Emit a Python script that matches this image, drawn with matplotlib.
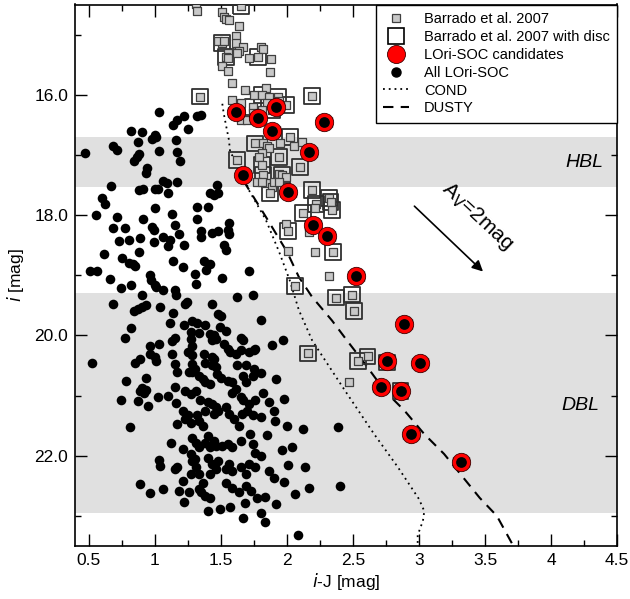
import matplotlib
matplotlib.use("Agg")
import matplotlib.pyplot as plt
from matplotlib.ticker import MultipleLocator, FormatStrFormatter, FuncFormatter
from matplotlib.lines import Line2D

plt.rcParams['font.family'] = ['Liberation Sans', 'DejaVu Sans']

# ---------------- data ----------------
# All LOri-SOC objects (i-J, i)
all_x = [1.03,1.17,1.22,1.14,1.32,1.35,1.25,0.82,0.90,1.00,1.01,0.98,0.87,1.16,0.68,0.71,0.47,1.03,1.17,0.88,
         0.86,0.84,1.19,0.94,0.93,1.06,1.09,1.17,0.67,0.88,0.91,1.00,1.02,1.10,1.47,1.42,1.45,1.48,0.60,0.62,
         1.00,1.32,1.40,0.55,0.71,1.13,0.91,1.32,1.56,0.68,0.77,0.98,0.99,1.15,1.35,1.35,1.43,1.48,1.55,1.56,
         1.18,0.73,0.80,0.89,0.99,1.06,1.10,1.11,1.22,1.52,1.54,0.88,0.61,0.75,0.80,0.83,0.85,1.14,1.21,1.37,
         1.42,1.39,0.51,0.56,0.66,0.96,0.97,1.00,1.01,1.30,1.31,1.51,0.82,0.74,1.06,1.15,1.16,0.90,
         1.71,1.62,1.74,1.80,1.97,1.89,1.61,1.76,
         0.68,0.84,0.87,0.90,0.93,1.04,1.14,1.23,1.24,1.43,1.50,1.48,1.11,1.22,1.28,1.32,1.38,1.49,1.54,0.82,
         1.27,1.33,1.42,1.45,1.43,1.46,1.65,1.67,0.77,1.15,1.13,1.27,1.28,0.96,1.03,1.52,1.55,1.57,1.65,1.71,
         1.75,1.25,1.28,0.96,1.00,1.01,1.13,1.37,1.43,1.45,0.89,1.15,0.52,0.85,1.28,1.30,1.28,1.26,1.38,1.43,
         1.46,1.62,1.69,1.75,1.74,1.17,1.33,1.36,1.38,1.42,1.47,1.50,1.55,1.58,1.67,1.69,0.93,0.78,1.15,1.23,
         1.27,1.31,0.90,0.93,0.92,0.89,1.02,0.74,0.87,1.10,1.16,0.95,1.34,1.40,1.43,1.46,1.48,1.58,1.61,1.65,
         1.67,1.71,1.76,1.21,1.25,1.23,1.27,1.32,1.33,1.36,1.38,1.45,1.54,1.56,1.60,1.64,1.66,1.70,1.74,1.17,
         0.81,1.28,1.31,1.33,1.40,1.38,1.42,1.45,1.46,1.51,1.55,1.58,1.65,1.72,1.74,1.76,1.12,1.21,1.27,1.30,
         1.03,1.04,1.17,1.15,1.28,1.31,1.33,1.36,1.40,1.43,1.46,1.42,1.48,1.56,1.54,1.58,1.65,1.69,1.71,1.76,
         0.89,0.96,1.06,1.18,1.26,1.22,1.33,1.35,1.38,1.42,1.40,1.49,1.57,1.64,1.68,1.67,1.73,1.77,1.54,1.58,
         1.69,1.27,1.21,
         1.83,1.90,1.98,2.06,2.17,2.40,2.08,2.12,2.39,2.14,
         1.80,1.82,1.92,1.86,1.98,1.80,1.91,2.00,1.85,1.96,1.80,1.86,2.01,1.80,1.92,1.83,2.04,1.90]
all_y = [16.29,16.42,16.35,16.50,16.35,16.33,16.57,16.60,16.62,16.67,16.71,16.74,16.78,16.76,16.85,16.91,16.97,16.93,16.95,16.98,
         17.04,17.10,17.10,17.22,17.30,17.43,17.47,17.45,17.51,17.58,17.56,17.56,17.57,17.64,17.50,17.64,17.67,17.63,17.71,17.82,
         17.89,17.86,17.86,18.00,18.03,17.98,18.07,18.06,18.13,18.21,18.22,18.20,18.25,18.16,18.26,18.36,18.30,18.26,18.25,18.31,
         18.32,18.43,18.42,18.38,18.45,18.37,18.51,18.42,18.50,18.50,18.58,18.61,18.64,18.71,18.79,18.82,18.85,18.77,18.86,18.77,
         18.81,18.92,18.93,18.93,19.07,19.00,19.08,19.16,19.20,18.98,19.14,19.05,19.16,19.21,19.25,19.25,19.33,19.32,
         18.93,19.36,19.33,19.75,20.07,20.16,20.31,20.22,
         19.48,19.59,19.56,19.53,19.50,19.52,19.62,19.48,19.45,19.48,19.67,19.64,19.80,19.82,19.76,19.80,19.82,19.86,19.93,19.88,
         19.95,19.96,19.97,20.00,20.07,20.06,20.04,20.07,20.04,20.04,20.10,20.06,20.17,20.17,20.15,20.14,20.22,20.28,20.25,20.28,
         20.24,20.28,20.33,20.31,20.36,20.42,20.31,20.31,20.36,20.39,20.39,20.47,20.46,20.46,20.47,20.56,20.61,20.61,20.46,20.50,
         20.53,20.50,20.50,20.56,20.67,20.61,20.67,20.72,20.78,20.81,20.64,20.70,20.75,20.78,20.67,20.78,20.70,20.75,20.85,20.92,
         20.97,20.92,20.87,20.91,20.95,20.92,21.02,21.07,21.09,21.01,21.13,21.18,21.07,21.11,21.14,21.19,21.25,20.95,20.89,21.03,
         21.08,21.14,21.08,21.25,21.33,21.39,21.45,21.33,21.42,21.50,21.25,21.31,21.19,21.31,21.39,21.50,21.31,21.25,21.33,21.48,
         21.53,21.70,21.78,21.86,21.67,21.78,21.86,21.75,21.83,21.83,21.81,21.86,21.75,21.64,21.81,21.95,21.79,21.89,21.97,22.06,
         22.07,22.17,22.18,22.22,22.08,22.19,22.31,22.45,22.03,22.14,22.22,22.31,22.08,22.14,22.22,22.25,22.19,22.31,22.14,22.19,
         22.47,22.62,22.56,22.58,22.61,22.77,22.56,22.61,22.67,22.70,22.92,22.89,22.85,22.61,22.78,23.03,22.58,22.70,22.45,22.53,
         22.50,22.31,22.42,
         22.68,22.37,22.43,22.63,22.53,22.50,23.32,21.55,21.52,22.19,
         20.62,20.95,20.72,21.10,21.05,21.35,21.42,21.50,21.65,21.90,22.00,22.25,22.15,22.95,22.80,23.10,21.85,21.25]

# Barrado et al. 2007 (all)
barrado_x = [1.31,1.32,1.65,1.51,1.52,1.54,1.56,1.64,1.51,1.48,1.52,1.61,1.61,1.67,1.64,1.55,1.54,1.55,1.62,1.80,
             1.82,1.78,1.71,1.88,1.51,1.55,1.87,1.58,1.34,1.68,1.84,1.75,1.81,1.86,1.93,1.99,2.19,1.58,1.65,1.74,
             1.85,1.94,1.89,1.65,1.70,1.74,1.81,
             1.76,1.82,1.85,1.86,1.95,2.02,2.05,2.11,1.94,1.81,1.79,1.81,1.62,2.10,1.82,1.94,1.96,1.99,1.77,1.84,
             1.89,1.87,2.19,2.32,1.90,1.81,1.94,2.22,2.21,2.33,2.34,2.12,1.99,2.01,2.17,2.01,2.21,2.35,2.32,2.06,
             2.37,2.49,2.51,2.16,2.54,2.61,2.47,2.76,2.86]
barrado_y = [14.50,14.60,14.53,14.62,14.71,14.74,14.76,14.86,15.14,15.11,15.10,15.03,15.14,15.20,15.28,15.31,15.37,15.39,15.30,15.20,
             15.24,15.37,15.39,15.40,15.53,15.61,15.63,15.81,16.03,15.92,15.89,16.00,16.00,16.03,16.03,16.17,16.02,16.08,16.14,16.20,
             16.14,16.11,16.25,16.42,16.42,16.31,16.25,
             16.81,16.81,16.86,16.89,16.81,16.70,16.86,16.78,17.03,16.97,17.03,17.17,17.08,17.20,17.33,17.31,17.33,17.36,17.45,17.47,
             17.53,17.64,17.58,17.72,17.45,17.45,17.45,17.82,17.89,17.78,17.92,17.97,18.14,18.26,18.28,18.60,18.62,18.61,19.01,19.18,
             19.37,19.32,19.60,20.30,20.43,20.35,20.77,20.45,20.93]

# Barrado et al. 2007 with disc
disc_x = [1.65,1.51,1.54,1.78,1.34,1.81,1.93,1.99,2.19,1.74,1.89,
          1.76,2.02,1.94,1.81,1.62,2.10,1.82,1.96,1.87,2.19,2.32,2.22,2.33,2.34,2.12,2.01,2.35,2.06,2.37,
          2.49,2.51,2.16,2.54,2.61,2.76,2.86]
disc_y = [14.53,15.14,15.37,15.37,16.03,16.00,16.03,16.17,16.02,16.20,16.25,
          16.81,16.70,17.03,17.17,17.08,17.20,17.33,17.33,17.64,17.58,17.72,17.82,17.78,17.92,17.97,18.26,18.61,19.18,19.37,
          19.32,19.60,20.30,20.43,20.35,20.45,20.93]

# LOri-SOC candidates
cand_x = [1.61,1.78,1.92,1.89,2.28,2.17,1.67,2.01,2.20,2.30,2.52,2.89,2.76,3.01,2.71,2.86,2.94,3.32]
cand_y = [16.28,16.39,16.21,16.60,16.46,16.95,17.33,17.62,18.17,18.35,19.01,19.81,20.43,20.46,20.85,20.93,21.64,22.10]
cand_xerr = [0.06,0.06,0.06,0.06,0.06,0.06,0.06,0.06,0.06,0.06,0.06,0.06,0.06,0.06,0.06,0.06,0.06,0.06]

# Isochrones
cond_x = [1.51,1.52,1.54,1.56,1.57,1.64,1.71,1.84,1.94,2.02,2.09,2.19,2.24,2.44,2.66,2.84,3.00,3.04,3.03,2.99,2.99]
cond_y = [16.15,16.30,16.53,16.75,16.97,17.14,17.58,18.08,18.61,19.08,19.58,20.08,20.25,20.92,21.64,22.19,22.72,22.92,23.08,23.32,23.52]
dusty_x = [1.68,1.69,1.84,2.00,2.09,2.19,2.34,2.46,2.59,2.74,2.89,3.04,3.19,3.46,3.59,3.72]
dusty_y = [17.42,17.50,18.03,18.61,19.03,19.36,19.75,20.10,20.47,20.92,21.25,21.64,21.97,22.70,23.00,23.52]

# Bands
hbl_band = (16.70, 17.53)
dbl_band = (19.29, 22.95)

# Extinction vector
av_start = (2.95, 17.82)
av_end = (3.50, 18.97)

# ---------------- figure ----------------
fig = plt.figure(figsize=(6.30, 5.99), dpi=100)
ax = fig.add_axes([75/630, 1-546/599, (617-75)/630, (546-4.5)/599])

ax.axhspan(*hbl_band, color='#e0e0e0', lw=0, zorder=0)
ax.axhspan(*dbl_band, color='#e0e0e0', lw=0, zorder=0)

ax.plot(cond_x, cond_y, color='black', ls=(0, (1, 2.2)), lw=1.3, zorder=2)
ax.plot(dusty_x, dusty_y, color='black', ls=(0, (5, 3.5)), lw=1.5, zorder=2)

ax.scatter(all_x, all_y, s=48, c='black', lw=0, zorder=3)

ax.scatter(disc_x, disc_y, s=130, marker='s', facecolors='none', edgecolors='#303030', lw=1.3, zorder=4)
ax.scatter(barrado_x, barrado_y, s=34, marker='s', facecolors='#c8c8c8', edgecolors='#404040', lw=0.9, zorder=5)

ax.errorbar(cand_x, cand_y, xerr=cand_xerr, fmt='none', ecolor='#202020', elinewidth=1.0,
            capsize=3.5, capthick=1.0, zorder=6)
ax.scatter(cand_x, cand_y, s=175, c='#ff0000', edgecolors='#400000', lw=0.6, zorder=7)
ax.scatter(cand_x, cand_y, s=60, c='black', lw=0, zorder=8)

ax.annotate('', xy=av_end, xytext=av_start,
            arrowprops=dict(arrowstyle='-|>', color='black', lw=1.2, mutation_scale=16), zorder=9)
ax.text(3.44, 18.02, r'A$_\mathrm{V}$=2mag', rotation=-43, fontsize=15,
        ha='center', va='center', rotation_mode='anchor')

ax.text(4.25, 17.12, 'HBL', fontsize=14, style='italic', ha='center', va='center')
ax.text(4.22, 21.17, 'DBL', fontsize=14, style='italic', ha='center', va='center')

ax.set_xlim(0.394, 4.5)
ax.set_ylim(23.5, 14.5)

ax.xaxis.set_major_locator(MultipleLocator(0.5))
ax.xaxis.set_minor_locator(MultipleLocator(0.25))
ax.yaxis.set_major_locator(MultipleLocator(2.0))
ax.yaxis.set_minor_locator(MultipleLocator(1.0))
ax.xaxis.set_major_formatter(FuncFormatter(lambda v, p: f'{v:g}'))
ax.yaxis.set_major_formatter(FormatStrFormatter('%.1f'))
ax.tick_params(which='both', direction='in', top=True, right=True, labelsize=12.5, width=1)
ax.tick_params(which='major', length=8.5, pad=5)
ax.tick_params(which='minor', length=4.5)
for s in ax.spines.values():
    s.set_linewidth(1.2)

ax.set_xlabel(r'$i$-J [mag]', fontsize=12.5, labelpad=2)
ax.set_ylabel(r'$i$ [mag]', fontsize=12.5, labelpad=6)

handles = [
    Line2D([], [], ls='none', marker='s', ms=6, mfc='#c8c8c8', mec='#404040', mew=0.9),
    Line2D([], [], ls='none', marker='s', ms=12, mfc='none', mec='black', mew=1.2),
    Line2D([], [], ls='none', marker='o', ms=13, mfc='#ff0000', mec='#400000', mew=0.6),
    Line2D([], [], ls='none', marker='o', ms=6.5, mfc='black', mec='black'),
    Line2D([], [], color='black', ls=(0, (1, 2.2)), lw=1.3),
    Line2D([], [], color='black', ls=(0, (5, 3.5)), lw=1.5),
]
labels = ['Barrado et al. 2007', 'Barrado et al. 2007 with disc', 'LOri-SOC candidates',
          'All LOri-SOC', 'COND', 'DUSTY']
leg = ax.legend(handles, labels, loc='upper right', bbox_to_anchor=(1.0, 1.0), borderaxespad=0,
                fontsize=10.5, frameon=True, fancybox=False, edgecolor='black', framealpha=1,
                handlelength=1.8, handletextpad=1.0, labelspacing=0.27, borderpad=0.5)
leg.get_frame().set_linewidth(1.0)
leg.set_zorder(10)

fig.savefig('out.png', dpi=100)
